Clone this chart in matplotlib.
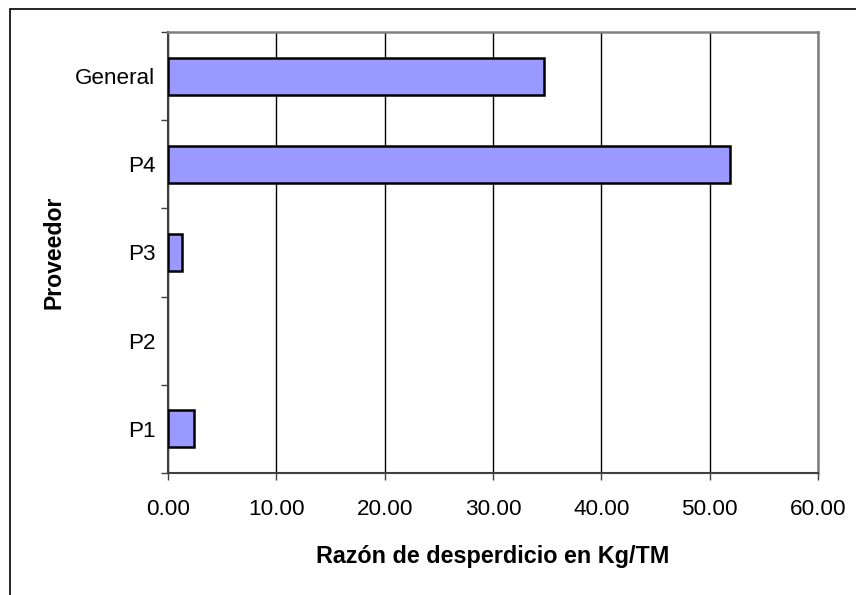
import matplotlib
matplotlib.use("Agg")
import matplotlib.pyplot as plt
from matplotlib.patches import Rectangle
import numpy as np

categories = ["P1", "P2", "P3", "P4", "General"]
values = [2.43, 0.0, 1.32, 51.9, 34.74]
xticks = [0, 10, 20, 30, 40, 50, 60]
xlabel = "Razón de desperdicio en Kg/TM"
ylabel = "Proveedor"

plt.rcParams['font.family'] = ['Liberation Sans', 'DejaVu Sans']

fig = plt.figure(figsize=(8.56, 5.95), dpi=100)
ax = fig.add_axes([168/856, 1-473/595, (818-168)/856, (473-32)/595])

y = np.arange(len(categories))
lws = [1.8 if v > 0 else 0 for v in values]
ax.barh(y, values, height=0.42, color="#9999FF", edgecolor="black", linewidth=lws, zorder=3)

ax.set_xlim(0, 60)
ax.set_ylim(-0.5, len(categories) - 0.5)
ax.set_xticks(xticks)
ax.set_xticklabels([f"{v:.2f}" for v in xticks], fontsize=16.2)
ax.set_yticks(y)
ax.set_yticklabels(categories, fontsize=16.2)
ax.set_yticks(np.arange(-0.5, len(categories), 1.0), minor=True)
ax.tick_params(axis='y', which='major', length=0, pad=9)
ax.tick_params(axis='y', which='minor', length=5, width=1, color='#404040', direction='out')
ax.tick_params(axis='x', which='major', length=5, width=1, color='#404040', direction='out', pad=14)

ax.xaxis.grid(True, color='black', linewidth=1.0, zorder=1)
ax.set_axisbelow(True)

for s in ['top', 'right']:
    ax.spines[s].set_color('#808080')
    ax.spines[s].set_linewidth(1.8)
for s in ['left', 'bottom']:
    ax.spines[s].set_color('#404040')
    ax.spines[s].set_linewidth(1.5)

ax.set_xlabel(xlabel, fontsize=16.8, fontweight='bold', labelpad=18)
ax.set_ylabel(ylabel, fontsize=16.6, fontweight='bold', labelpad=7)

fig.patches.append(Rectangle((10/856, -0.1), 1.2, 1 - 9/595 + 0.1, transform=fig.transFigure,
                             fill=False, edgecolor='black', linewidth=1.2, clip_on=False))

fig.savefig("out.png", dpi=100)
